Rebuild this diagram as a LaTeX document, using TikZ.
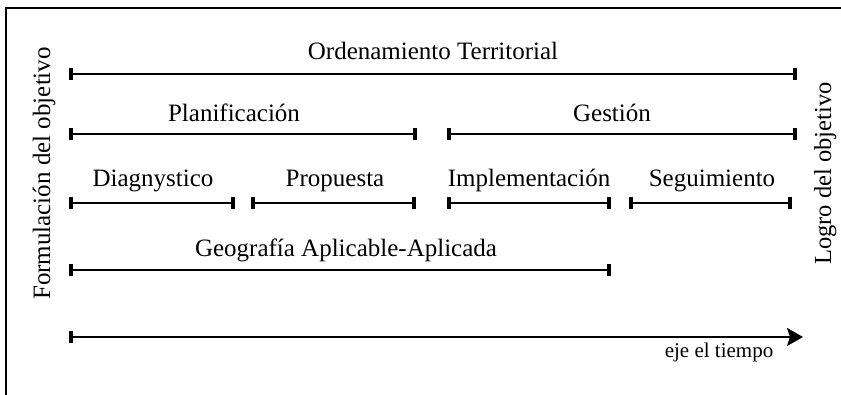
\documentclass[tikz,border=0pt]{standalone}
\usepackage{fontspec}
\setmainfont{Liberation Serif}
\usetikzlibrary{arrows.meta}
\begin{document}
\begin{tikzpicture}[x=1pt,y=1pt,
  seg/.style={line width=2.2pt,{Bar[width=12pt,line width=3.6pt]}-{Bar[width=12pt,line width=3.6pt]}},
  axis/.style={line width=2.2pt,{Bar[width=12pt,line width=3.6pt]}-{Stealth[length=16pt,width=18pt,inset=3pt]}},
  lbl/.style={anchor=base,inner sep=0pt,font=\fontsize{25}{30}\selectfont},
  small/.style={anchor=base,inner sep=0pt,font=\fontsize{21}{25}\selectfont},
  side/.style={rotate=90,anchor=base,inner sep=0pt,font=\fontsize{25}{30}\selectfont},
  frame/.style={line width=2pt}]
\useasboundingbox (0,0) rectangle (841,395);
\draw[frame] (5.5,-10) |- (850,387);
% endpoints
\coordinate (o1) at (69,321); \coordinate (o2) at (797,321);
\coordinate (p1) at (69,261); \coordinate (p2) at (417,261);
\coordinate (g1) at (447,261); \coordinate (g2) at (797,261);
\coordinate (d1) at (69,192); \coordinate (d2) at (235,192);
\coordinate (r1) at (251,192); \coordinate (r2) at (416,192);
\coordinate (i1) at (447,192); \coordinate (i2) at (611,192);
\coordinate (s1) at (629,192); \coordinate (s2) at (792,192);
\coordinate (a1) at (69,125); \coordinate (a2) at (611,125);
\coordinate (t1) at (69,58); \coordinate (t2) at (803,58);
\draw[seg] (o1) -- (o2);
\draw[seg] (p1) -- (p2);
\draw[seg] (g1) -- (g2);
\draw[seg] (d1) -- (d2);
\draw[seg] (r1) -- (r2);
\draw[seg] (i1) -- (i2);
\draw[seg] (s1) -- (s2);
\draw[seg] (a1) -- (a2);
\draw[axis] (t1) -- (t2);
% labels
\node[lbl] (lo) at (433,335) {Ordenamiento Territorial};
\node[lbl] (lp) at (234,273) {Planificación};
\node[lbl] (lg) at (612,273) {Gestión};
\node[lbl] (ld) at (153,208) {Diagnystico};
\node[lbl] (lr) at (335,208) {Propuesta};
\node[lbl] (li) at (529,208) {Implementación};
\node[lbl] (ls) at (712,208) {Seguimiento};
\node[lbl] (la) at (346,138) {Geografía Aplicable-Aplicada};
\node[small] (lt) at (719,37) {eje el tiempo};
\node[side] (lf) at (50,221.5) {Formulación del objetivo};
\node[side,font=\fontsize{24.5}{29}\selectfont] (ll) at (831,221.5) {Logro del objetivo};
\end{tikzpicture}
\end{document}
